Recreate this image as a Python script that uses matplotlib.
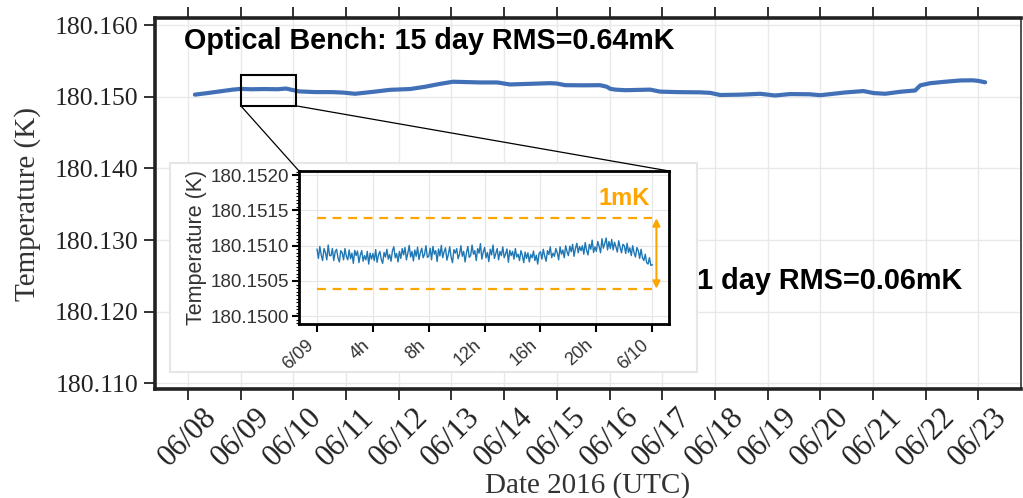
import numpy as np
import matplotlib
matplotlib.use("Agg")
import matplotlib.pyplot as plt
from matplotlib.patches import Rectangle, FancyBboxPatch, ConnectionPatch
from matplotlib.ticker import MultipleLocator, FormatStrFormatter

# ---------------- data ----------------
# main series: days since 2016-06-08 00:00 UTC, temperature (K)
main_day = [0.13, 0.35, 0.60, 0.85, 1.00, 1.20, 1.45, 1.70, 1.86, 1.95,
            2.11, 2.40, 2.75, 2.95, 3.17, 3.50, 3.83, 4.21, 4.50, 4.78,
            5.03, 5.30, 5.55, 5.87, 6.11, 6.45, 6.87, 7.00, 7.16, 7.50,
            7.82, 7.95, 8.01, 8.11, 8.30, 8.77, 8.96, 9.30, 9.72, 9.91,
            10.10, 10.50, 10.86, 11.14, 11.43, 11.80, 12.00, 12.47, 12.82,
            13.01, 13.23, 13.52, 13.80, 13.90, 14.09, 14.37, 14.66, 14.89,
            15.00, 15.13]
main_temp = [180.15030, 180.15050, 180.15075, 180.15100, 180.15110, 180.15105,
             180.15108, 180.15105, 180.15115, 180.15100, 180.15075, 180.15066,
             180.15065, 180.15058, 180.15042, 180.15068, 180.15097, 180.15108,
             180.15140, 180.15180, 180.15210, 180.15205, 180.15200, 180.15200,
             180.15172, 180.15180, 180.15190, 180.15185, 180.15162, 180.15160,
             180.15162, 180.15140, 180.15112, 180.15100, 180.15092, 180.15100,
             180.15072, 180.15065, 180.15062, 180.15055, 180.15025, 180.15030,
             180.15042, 180.15018, 180.15038, 180.15035, 180.15022, 180.15060,
             180.15080, 180.15052, 180.15042, 180.15070, 180.15088, 180.15160,
             180.15190, 180.15210, 180.15228, 180.15230, 180.15222, 180.15202]

main_ticklabels = ["06/08", "06/09", "06/10", "06/11", "06/12", "06/13", "06/14",
                   "06/15", "06/16", "06/17", "06/18", "06/19", "06/20", "06/21",
                   "06/22", "06/23"]
main_yticks = [180.110, 180.120, 180.130, 180.140, 180.150, 180.160]

# inset: one day (2016-06-09), values in micro-kelvin above 180.1500 K, every 0.1 h
inset_base = 180.1500
inset_uK = [
    950, 820, 990, 870, 790, 960, 905, 800, 1010, 860,
    860, 960, 790, 915, 950, 830, 770, 930, 900, 800,
    960, 850, 800, 940, 815, 895, 750, 935, 860, 925,
    760, 870, 930, 780, 860, 800, 920, 740, 895, 810,
    890, 790, 945, 765, 870, 920, 805, 750, 905, 840,
    950, 810, 875, 780, 930, 985, 830, 890, 770, 920,
    820, 960, 870, 975, 800, 895, 1005, 840, 920, 785,
    940, 850, 980, 805, 900, 965, 830, 880, 1000, 835,
    850, 965, 800, 990, 880, 930, 775, 955, 855, 1005,
    830, 915, 970, 795, 875, 985, 840, 760, 945, 895,
    960, 815, 880, 1000, 850, 920, 770, 900, 990, 835,
    860, 1010, 880, 930, 790, 960, 895, 1030, 810, 910,
    975, 830, 905, 775, 950, 870, 1010, 820, 890, 960,
    800, 920, 860, 985, 830, 885, 955, 765, 935, 860,
    920, 810, 960, 840, 880, 790, 930, 865, 760, 910,
    820, 900, 770, 875, 830, 925, 790, 865, 740, 895,
    915, 810, 950, 855, 780, 930, 875, 985, 830, 895,
    850, 960, 900, 800, 985, 880, 940, 830, 1000, 915,
    860, 995, 915, 1020, 850, 960, 1035, 900, 990, 930,
    1000, 880, 1045, 935, 870, 1020, 950, 1080, 905, 985,
    920, 1060, 990, 900, 1100, 965, 1030, 1110, 940, 1060,
    960, 1090, 940, 1050, 985, 910, 1070, 975, 900, 1020,
    1000, 890, 1035, 905, 970, 860, 1000, 900, 840, 975,
    930, 820, 950, 830, 790, 880, 760, 740, 830, 720,
    730]
inset_hours = np.linspace(0, 24, len(inset_uK))
inset_ticks = [0, 4, 8, 12, 16, 20, 24]
inset_ticklabels = ["6/09", "4h", "8h", "12h", "16h", "20h", "6/10"]
inset_yticks = [180.1500, 180.1505, 180.1510, 180.1515, 180.1520]
band_low, band_high = 180.15039, 180.15139

# ---------------- figure ----------------
W, H = 1023, 498
fig = plt.figure(figsize=(W / 100, H / 100), dpi=100)

def fx(px):
    return px / W

def fy(py):
    return 1 - py / H

serif = "Liberation Serif"
sans = "Liberation Sans"

L, R, T, B = 155, 1021, 18, 389
ax = fig.add_axes([fx(L), fy(B), fx(R - L), (B - T) / H])
ax.plot(main_day, main_temp, color="#4170b6", lw=3.0, solid_capstyle="round", zorder=3)
ax.set_xlim(-0.627, 15.81)
ax.set_ylim(180.1092, 180.1610)
ax.set_xticks(range(len(main_ticklabels)))
ax.set_xticklabels(main_ticklabels, rotation=45, ha="center", va="top",
                   fontfamily=serif, fontsize=22, color="#222222")
ax.set_yticks(main_yticks)
ax.yaxis.set_major_formatter(FormatStrFormatter("%.3f"))
for lab in ax.get_yticklabels():
    lab.set_fontfamily(serif)
    lab.set_fontsize(18.5)
    lab.set_color("#222222")
ax.tick_params(axis="both", direction="out", length=8, width=1.3, color="#222222", pad=4)
ax.tick_params(axis="x", top=True, pad=2)
ax.grid(True, color="#e9e9e9", lw=1.0, zorder=0)
ax.set_axisbelow(True)
for side in ["left", "bottom", "top"]:
    ax.spines[side].set_linewidth(2.6)
    ax.spines[side].set_color("#222222")
ax.spines["right"].set_linewidth(1.2)
ax.spines["right"].set_color("#333333")
ax.set_xlabel("Date 2016 (UTC)", fontfamily=serif, fontsize=21, color="#333333", labelpad=0)
ax.set_ylabel("Temperature (K)", fontfamily=serif, fontsize=21, color="#333333", labelpad=10)

ax.text(0.033, 0.937, "Optical Bench: 15 day RMS=0.64mK", transform=ax.transAxes,
        fontfamily=sans, fontweight="bold", fontsize=20.7, color="black", va="center", ha="left")
fig.text(fx(697), fy(281), "1 day RMS=0.06mK", fontfamily=sans, fontweight="bold",
         fontsize=20.8, color="black", va="center", ha="left", zorder=5)

# zoom rectangle on main axes
rect_x0, rect_x1 = 1.0, 2.04
rect_y0, rect_y1 = 180.14875, 180.15306
ax.add_patch(Rectangle((rect_x0, rect_y0), rect_x1 - rect_x0, rect_y1 - rect_y0,
                       fill=False, ec="black", lw=1.5, zorder=4))

# white inset card
card = FancyBboxPatch((fx(170), fy(372)), fx(697 - 170), (372 - 163) / H,
                      boxstyle="square,pad=0", transform=fig.transFigure,
                      fc="white", ec="#e6e6e6", lw=1.5, zorder=1)
fig.add_artist(card)

# inset axes
iL, iR, iT, iB = 299, 669, 171, 324
axi = fig.add_axes([fx(iL), fy(iB), fx(iR - iL), (iB - iT) / H], zorder=2)
axi.plot(inset_hours, np.array(inset_uK) * 1e-6 + inset_base, color="#1f77b4", lw=1.0, zorder=3)
axi.set_xlim(-1.29, 25.2)
axi.set_ylim(180.14989, 180.15206)
axi.hlines([band_low, band_high], 0, 24, colors="#ffa500", linestyles=(0, (4, 3)), lw=1.6, zorder=4)
axi.annotate("", xy=(24.3, band_high), xytext=(24.3, band_low),
             arrowprops=dict(arrowstyle="<|-|>", color="#ffa500", lw=1.5,
                             mutation_scale=11, shrinkA=0, shrinkB=0), zorder=4)
axi.text(23.8, 180.15167, "1mK", color="#ffa500", fontfamily=sans, fontweight="bold",
         fontsize=17, ha="right", va="center")
axi.set_xticks(inset_ticks)
axi.set_xticklabels(inset_ticklabels, rotation=42, ha="right", va="top",
                    fontfamily=sans, fontsize=13, color="#333333")
axi.set_yticks(inset_yticks)
axi.yaxis.set_major_formatter(FormatStrFormatter("%.4f"))
axi.yaxis.set_minor_locator(MultipleLocator(0.00005))
for lab in axi.get_yticklabels():
    lab.set_fontfamily(sans)
    lab.set_fontsize(13.5)
    lab.set_color("#333333")
axi.tick_params(axis="both", which="major", direction="out", length=5, width=1.5, color="black", pad=2)
axi.tick_params(axis="x", which="major", length=6, pad=3)
axi.tick_params(axis="y", which="minor", direction="out", length=2.5, width=0.8, color="black")
axi.grid(True, color="#e6e6e6", lw=0.8, zorder=0)
axi.set_axisbelow(True)
for s in axi.spines.values():
    s.set_linewidth(2.0)
    s.set_color("black")
axi.set_ylabel("Temperature (K)", fontfamily=sans, fontsize=15.5, color="#333333", labelpad=3)

# connector lines
for xa, xb in [(rect_x0, 0), (rect_x1, 1)]:
    con = ConnectionPatch(xyA=(xa, rect_y0), coordsA=ax.transData,
                          xyB=(xb, 1), coordsB=axi.transAxes,
                          color="black", lw=0.9, zorder=3)
    fig.add_artist(con)

fig.savefig("out.png", dpi=100)
